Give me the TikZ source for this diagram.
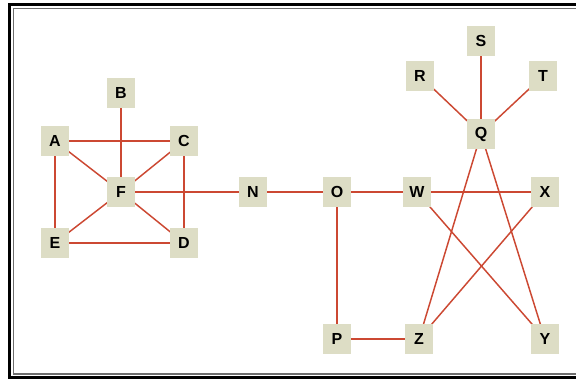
\documentclass[tikz,border=0pt]{standalone}
\usepackage{fontspec}
\setmainfont{Liberation Sans}
\pgfdeclarelayer{background}
\pgfsetlayers{background,main}
\definecolor{boxfill}{RGB}{221,221,197}
\definecolor{edgered}{RGB}{204,72,50}
\definecolor{framegray}{RGB}{110,110,110}

\begin{document}
\begin{tikzpicture}[x=0.75pt,y=-0.75pt,
		nodebox/.style={fill=boxfill,minimum width=21pt,minimum height=22pt,inner sep=0pt,font=\fontsize{12}{14}\selectfont\bfseries},
		edge/.style={edgered,line width=1.1pt}]
			\useasboundingbox (0,0) rectangle (576,379);
			\draw[line width=2.6pt] (576,4.5) -- (9.5,4.5) -- (9.5,377.5) -- (576,377.5);
			\draw[framegray,line width=0.8pt] (576,8.5) -- (13.5,8.5) -- (13.5,374) -- (576,374);
			\foreach \name/\x/\y in {A/55/141, B/121/93, C/184/141, F/121/192, E/55/243, D/184/243,
				N/253/192, O/337/192, W/417/192, X/545/192, R/420/76, S/481/41, T/543/76,
				Q/481/134, P/337/339, Z/419/339, Y/545/339} {
				\node[nodebox] (\name) at (\x,\y) {\name};
			};
			\begin{pgfonlayer}{background}
				\fill[white] (0,0) rectangle (576,379);
				\foreach \a/\b in {A/C, A/F, A/E, B/F, C/F, C/D, F/D, F/E, E/D, F/N, N/O, O/W, W/X,
					O/P, P/Z, R/Q, S/Q, T/Q, Q/Z, Q/Y, W/Y, X/Z} {
					\draw[edge] (\a.center) -- (\b.center);
				};
			\end{pgfonlayer}
		\end{tikzpicture}
\end{document}
